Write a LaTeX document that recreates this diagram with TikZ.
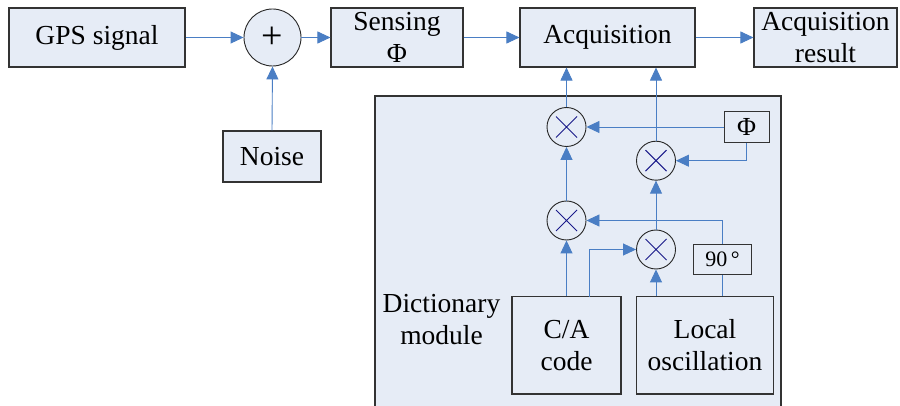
\documentclass[tikz,border=0pt]{standalone}
\usepackage{fontspec}
\setmainfont{Liberation Serif}
\usetikzlibrary{arrows.meta}
\definecolor{boxfill}{HTML}{E6ECF6}
\definecolor{linec}{HTML}{4A7EC4}
\definecolor{xcol}{HTML}{1A1A8A}
\begin{document}
\begin{tikzpicture}[x=1pt,y=-1pt,
  box/.style={draw=black!80, fill=boxfill, line width=1.1pt, inner sep=0pt, align=center,
    font=\fontsize{27.5}{32}\selectfont},
  smallbox/.style={draw=black!80, fill=boxfill, line width=1.1pt, inner sep=0pt, align=center,
    font=\fontsize{22}{24}\selectfont},
  mult/.style={circle, draw=black!85, fill=boxfill, line width=0.9pt, minimum size=39pt, inner sep=0pt,
    path picture={\draw[xcol, line width=1pt]
      ([shift={(-10.5pt,-10.5pt)}]path picture bounding box.center) -- ([shift={(10.5pt,10.5pt)}]path picture bounding box.center)
      ([shift={(-10.5pt,10.5pt)}]path picture bounding box.center) -- ([shift={(10.5pt,-10.5pt)}]path picture bounding box.center);}},
  arr/.style={draw=linec, line width=0.9pt, -{Triangle[length=13pt,width=12pt]}, color=linec},
  ln/.style={draw=linec, line width=0.9pt}
]
\useasboundingbox (0,0) rectangle (900,406);
\clip (0,0) rectangle (900,406);
\fill[white] (0,0) rectangle (900,406);

% dictionary module background
\node[draw=black!80, fill=boxfill, line width=1.1pt, minimum width=406pt, minimum height=330pt, inner sep=0pt] (dict) at (578,261) {};
\node[font=\fontsize{27.5}{32}\selectfont, align=center, inner sep=0pt] (dlabel) at (441.5,319.5) {Dictionary\\module};

% top row
\node[box, minimum width=176pt, minimum height=59pt] (gps) at (97,37.5) {GPS signal};
\node[circle, draw=black!85, fill=boxfill, line width=0.9pt, minimum size=57pt, inner sep=0pt,
  font=\fontsize{38}{40}\selectfont] (plus) at (272.5,37.5) {+};
\node[box, minimum width=132pt, minimum height=59pt] (sens) at (397,37.5) {Sensing\\Φ};
\node[box, minimum width=175pt, minimum height=59pt] (acq) at (607.5,37.5) {Acquisition};
\node[box, minimum width=143pt, minimum height=59pt] (res) at (825.5,37.5) {Acquisition\\result};
\node[box, minimum width=98pt, minimum height=51pt] (noise) at (272,156.5) {Noise};

% multipliers
\node[mult] (m1) at (566.5,127) {};
\node[mult] (m2) at (656,160.7) {};
\node[mult] (m3) at (566.5,220.5) {};
\node[mult] (m4) at (656,249.5) {};

% small boxes
\node[smallbox, minimum width=44.7pt, minimum height=30.6pt, font=\fontsize{26}{28}\selectfont] (phi) at (746.7,127) {Φ};
\node[smallbox, minimum width=58.4pt, minimum height=30pt] (ninety) at (722.5,259.3) {90\,°};

% bottom boxes
\node[box, minimum width=109pt, minimum height=97.3pt] (ca) at (566.5,345.3) {C/A\\code};
\node[box, minimum width=136.6pt, minimum height=97.3pt] (lo) at (705,345.3) {Local\\oscillation};

% top row connectors
\draw[arr] (gps.east) -- (plus.west);
\draw[arr] (plus.east) -- (sens.west);
\draw[arr] (noise.north) -- (plus.south);
\draw[arr] (sens.east) -- (acq.west);
\draw[arr] (acq.east) -- (res.west);

% dictionary connectors
\draw[arr] (m1.north) -- (m1.north |- acq.south);
\draw[arr] (m2.north) -- (m2.north |- acq.south);
\draw[arr] (phi.west) -- (m1.east);
\draw[arr] (phi.south) |- (m2.east);
\draw[arr] (m3.north) -- (m1.south);
\draw[arr] (m4.north) -- (m2.south);
\draw[arr] (ca.north -| m3) -- (m3.south);
\coordinate (ca2) at (589.3,296.7);
\draw[arr] (ca2) |- (m4.west);
\draw[arr] (lo.north -| m4) -- (m4.south);
\draw[ln] (lo.north -| ninety) -- (ninety.south);
\draw[arr] (ninety.north) |- (m3.east);
\end{tikzpicture}
\end{document}
